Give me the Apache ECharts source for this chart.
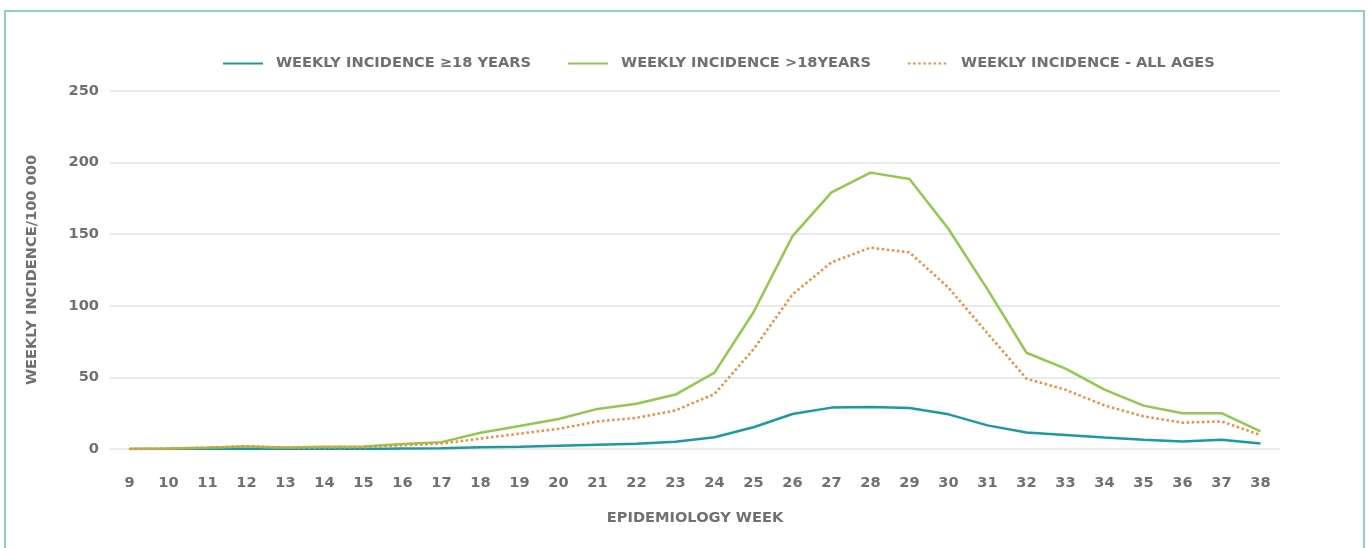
<!DOCTYPE html>
<html>
<head>
<meta charset="utf-8">
<style>
html,body{margin:0;padding:0;background:#fff;}
#chart{width:1368px;height:548px;}
</style>
<script src="https://cdn.jsdelivr.net/npm/echarts@6/dist/echarts.min.js"></script>
</head>
<body>
<div id="chart"></div>
<script>
const weeks = ['9','10','11','12','13','14','15','16','17','18','19','20','21','22','23','24','25','26','27','28','29','30','31','32','33','34','35','36','37','38'];
const incidenceGe18 = [0,0,0,0,0,0,0,0.3,0.5,1.3,1.5,2.2,2.9,3.6,5,8.2,15.2,24.4,28.9,29.3,28.6,24.2,16.5,11.5,9.8,8.1,6.5,5.3,6.5,3.9];
const incidenceGt18 = [0,0.3,1,1.8,1,1.5,1.8,3.5,4.8,11.3,16,21,28,31.6,38,53.3,95.5,148.7,179.2,193,188.5,153.6,111.5,67.2,56.1,41.5,30.3,25,25,12.3];
const incidenceAll = [0,0.2,0.8,2,0.8,1,1.2,2.6,3.8,7.3,10.7,14.1,19.2,21.8,26.9,38.4,69.6,108,130.4,140.6,137.3,112.6,80.8,49.1,41.4,30.4,22.8,18.4,19.3,9.8];
const seriesNames = ['WEEKLY INCIDENCE \u226518 YEARS','WEEKLY INCIDENCE >18YEARS','WEEKLY INCIDENCE - ALL AGES'];

const FONT = 'DejaVu Sans';
const TXT = '#707070';
const FS = 14.6;
const txt = (size)=>({color:TXT,fontFamily:FONT,fontWeight:'bold',fontSize:size});
const chart = echarts.init(document.getElementById('chart'), null, {renderer:'canvas'});
chart.setOption({
  animation:false,
  backgroundColor:'#fff',
  graphic:[{
    type:'rect', silent:true,
    shape:{x:5,y:11,width:1359,height:600},
    style:{fill:'none',stroke:'#8cd3bb',lineWidth:2}
  }],
  legend:{
    top:51, left:217,
    itemWidth:40, itemHeight:14, itemGap:36,
    itemStyle:{opacity:0},
    textStyle:Object.assign(txt(FS),{padding:[0,0,0,8]}),
    data:seriesNames
  },
  grid:{left:110,right:88,top:91,bottom:99,containLabel:false},
  xAxis:{
    type:'category', data:weeks, boundaryGap:true,
    name:'EPIDEMIOLOGY WEEK', nameLocation:'middle', nameGap:62,
    nameTextStyle:txt(FS),
    axisLine:{show:false}, axisTick:{show:false},
    axisLabel:Object.assign(txt(FS),{margin:27,interval:0})
  },
  yAxis:{
    type:'value', min:0, max:250, interval:50,
    name:'WEEKLY INCIDENCE/100 000', nameLocation:'middle', nameGap:70,
    nameTextStyle:txt(FS),
    axisLine:{show:false}, axisTick:{show:false},
    axisLabel:Object.assign(txt(FS),{margin:11}),
    splitLine:{lineStyle:{color:'#e3e3e3',width:1.5}}
  },
  series:[
    {name:seriesNames[0],type:'line',data:incidenceGe18,symbol:'none',
     lineStyle:{color:'#1b9aa1',width:2.5},itemStyle:{color:'#1b9aa1'}},
    {name:seriesNames[1],type:'line',data:incidenceGt18,symbol:'none',
     lineStyle:{color:'#92c84f',width:2.5},itemStyle:{color:'#92c84f'}},
    {name:seriesNames[2],type:'line',data:incidenceAll,symbol:'none',
     lineStyle:{color:'#f38a3f',width:2.5,type:[2.5,2.6]},itemStyle:{color:'#f38a3f'}}
  ]
});
</script>
</body>
</html>
